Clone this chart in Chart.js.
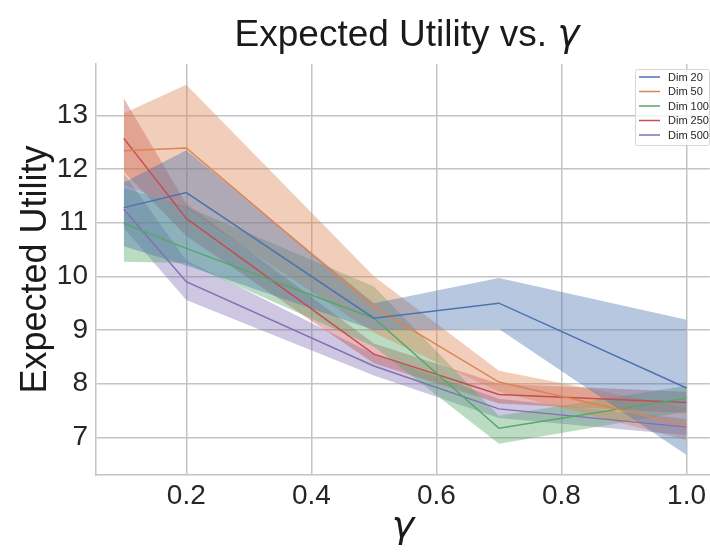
<!DOCTYPE html>
<html>
<head>
<meta charset="utf-8">
<title>Expected Utility vs. gamma</title>
<script src="https://cdn.jsdelivr.net/npm/chart.js@4/dist/chart.umd.min.js"></script>
<style>
  html, body { margin: 0; padding: 0; background: #fff; overflow: hidden; }
  canvas { display: block; }
</style>
</head>
<body>
<canvas id="utilityChart" width="710" height="552"></canvas>
<script>
// gamma values on the x axis
const gammas = [0.1, 0.2, 0.5, 0.7, 1.0];
const dimLabels = ["Dim 20", "Dim 50", "Dim 100", "Dim 250", "Dim 500"];

// mean expected utility per dimension
const mean20 = [11.28, 11.56, 9.22, 9.50, 7.92];
const mean50 = [12.34, 12.39, 9.43, 8.03, 7.23];
const mean100 = [10.99, 10.52, 9.22, 7.17, 7.73];
const mean250 = [12.57, 11.08, 8.55, 7.80, 7.65];
const mean500 = [11.25, 9.90, 8.33, 7.53, 7.19];

// shaded band (upper / lower)
const upper20 = [11.75, 12.35, 9.50, 9.97, 9.19];
const lower20 = [10.56, 10.20, 9.00, 9.02, 6.67];
const upper50 = [13.04, 13.57, 10.00, 8.24, 7.55];
const lower50 = [11.70, 11.25, 8.95, 7.85, 6.95];
const upper100 = [11.65, 11.30, 9.81, 7.40, 7.96];
const lower100 = [10.27, 10.25, 8.69, 6.88, 7.48];
const upper250 = [13.32, 11.35, 8.75, 8.00, 7.85];
const lower250 = [11.95, 10.75, 8.38, 7.63, 7.45];
const upper500 = [11.92, 10.30, 8.55, 7.72, 7.34];
const lower500 = [10.90, 9.56, 8.15, 7.36, 7.04];

const xTicks = [0.2, 0.4, 0.6, 0.8, 1.0];
const yTicks = [7, 8, 9, 10, 11, 12, 13];

const means = [mean20, mean50, mean100, mean250, mean500];
const uppers = [upper20, upper50, upper100, upper250, upper500];
const lowers = [lower20, lower50, lower100, lower250, lower500];
const lineColors = ["#4c72b0", "#dd8452", "#55a868", "#c44e52", "#8172b3"];
const bandColors = ["rgba(76,114,176,0.4)", "rgba(221,132,82,0.4)", "rgba(85,168,104,0.4)",
                    "rgba(196,78,82,0.4)", "rgba(129,114,179,0.4)"];

function toPoints(ys) {
  return gammas.map((g, i) => ({ x: g, y: ys[i] }));
}

const datasets = [];
for (let i = 0; i < dimLabels.length; i++) {
  datasets.push({
    label: dimLabels[i] + " upper",
    data: toPoints(uppers[i]),
    fill: "+1",
    backgroundColor: bandColors[i],
    borderWidth: 0,
    pointRadius: 0,
    order: 2
  });
  datasets.push({
    label: dimLabels[i] + " lower",
    data: toPoints(lowers[i]),
    fill: false,
    borderWidth: 0,
    pointRadius: 0,
    order: 2
  });
}
for (let i = 0; i < dimLabels.length; i++) {
  datasets.push({
    label: dimLabels[i],
    data: toPoints(means[i]),
    fill: false,
    borderColor: lineColors[i],
    borderWidth: 1.5,
    pointRadius: 0,
    order: 1
  });
}

// title with italic gamma
const titlePlugin = {
  id: "titleText",
  afterDraw(chart) {
    const ctx = chart.ctx;
    const a = "Expected Utility vs. ";
    ctx.save();
    ctx.fillStyle = "#1a1a1a";
    ctx.textBaseline = "alphabetic";
    ctx.font = "37px 'Liberation Sans', Arial, sans-serif";
    const wa = ctx.measureText(a).width;
    ctx.font = "italic 37px 'DejaVu Sans', sans-serif";
    const wb = ctx.measureText("γ").width;
    const x0 = (chart.chartArea.left + chart.chartArea.right) / 2 - (wa + wb) / 2 + 4;
    ctx.font = "37px 'Liberation Sans', Arial, sans-serif";
    ctx.fillText(a, x0, 46);
    ctx.font = "italic 37px 'DejaVu Sans', sans-serif";
    ctx.fillText("γ", x0 + wa, 46);
    ctx.restore();
  }
};

// boxed legend inside the plot, top right
const legendPlugin = {
  id: "boxLegend",
  afterDraw(chart) {
    const ctx = chart.ctx;
    const left = 635, top = 69, w = 74, h = 76;
    ctx.save();
    ctx.fillStyle = "rgba(255,255,255,0.8)";
    ctx.strokeStyle = "#d6d6d6";
    ctx.lineWidth = 1;
    ctx.beginPath();
    ctx.roundRect(left + 0.5, top + 0.5, w, h, 2);
    ctx.fill();
    ctx.stroke();
    ctx.font = "11px 'Liberation Sans', Arial, sans-serif";
    ctx.textBaseline = "middle";
    ctx.fillStyle = "#262626";
    for (let i = 0; i < dimLabels.length; i++) {
      const y = top + 8 + i * 14.5;
      ctx.strokeStyle = lineColors[i];
      ctx.lineWidth = 1.5;
      ctx.beginPath();
      ctx.moveTo(639, y);
      ctx.lineTo(660, y);
      ctx.stroke();
      ctx.fillText(dimLabels[i], 668, y + 0.5);
    }
    ctx.restore();
  }
};

Chart.defaults.font.family = "'Liberation Sans', Arial, sans-serif";
Chart.defaults.color = "#262626";

new Chart("utilityChart", {
  type: "line",
  data: { datasets: datasets },
  options: {
    responsive: false,
    animation: false,
    layout: { padding: { top: 64, right: 0, bottom: 0, left: 0 } },
    plugins: {
      legend: { display: false },
      tooltip: { enabled: false }
    },
    scales: {
      x: {
        type: "linear",
        min: 0.0556,
        max: 1.0373,
        afterBuildTicks: (scale) => { scale.ticks = xTicks.map(v => ({ value: v })); },
        afterFit: (scale) => { scale.height = 77; },
        ticks: {
          font: { size: 28 },
          color: "#262626",
          padding: 4,
          maxRotation: 0,
          callback: (v) => v.toFixed(1)
        },
        grid: { color: "#c4c4c4", lineWidth: 1.5, drawTicks: false },
        border: { color: "#c4c4c4", width: 1.5 },
        title: {
          display: true,
          text: "γ",
          color: "#1a1a1a",
          font: { family: "'DejaVu Sans', sans-serif", size: 38, style: "italic" },
          padding: { top: 0, bottom: 2 }
        }
      },
      y: {
        min: 6.298,
        max: 13.956,
        afterBuildTicks: (scale) => { scale.ticks = yTicks.map(v => ({ value: v })); },
        afterFit: (scale) => { scale.width = 96; },
        ticks: {
          font: { size: 28 },
          color: "#262626",
          padding: 8
        },
        grid: { color: "#c4c4c4", lineWidth: 1.5, drawTicks: false },
        border: { color: "#c4c4c4", width: 1.5 },
        title: {
          display: true,
          text: "Expected Utility",
          color: "#1a1a1a",
          font: { size: 36 },
          padding: { top: 14, bottom: 0 }
        }
      }
    }
  },
  plugins: [titlePlugin, legendPlugin]
});
</script>
</body>
</html>
